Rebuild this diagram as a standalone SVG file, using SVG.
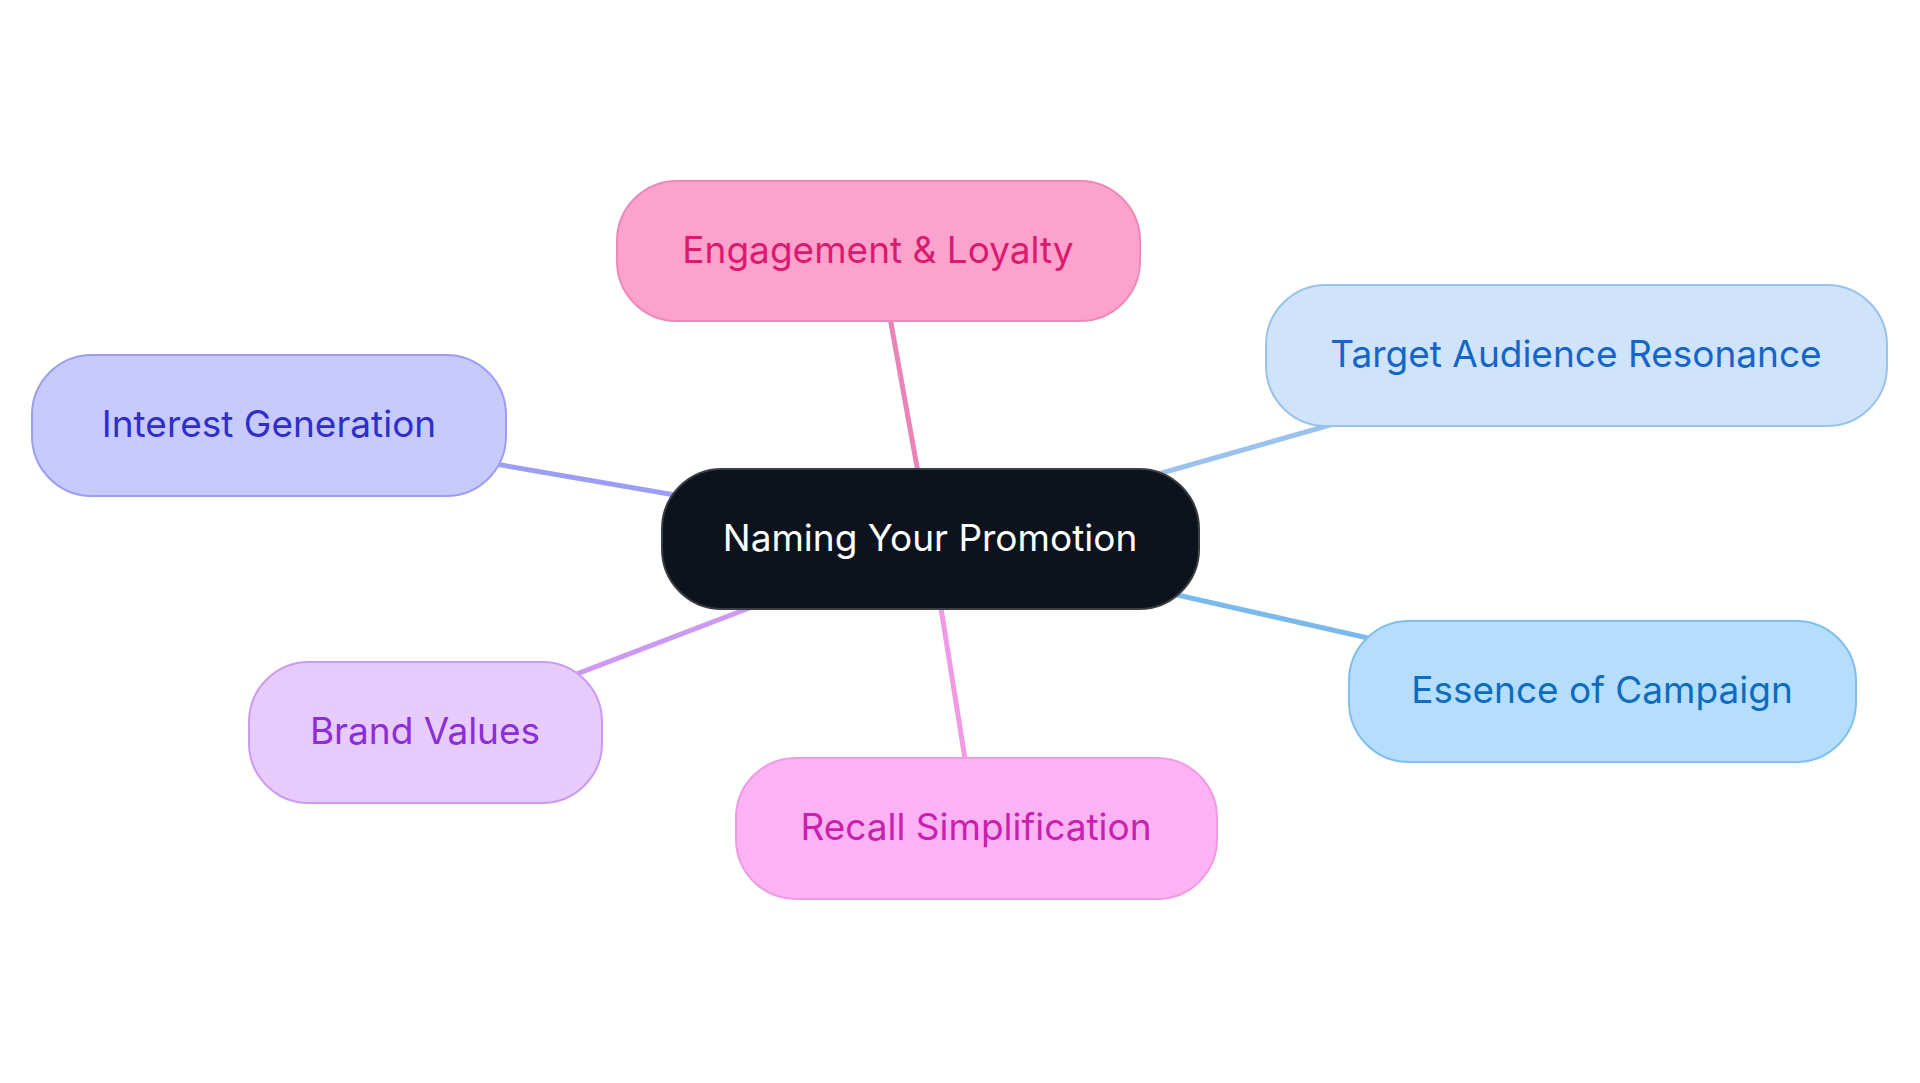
<svg xmlns="http://www.w3.org/2000/svg" width="1920" height="1083" viewBox="0 0 1920 1083">
<style>
.n rect{stroke-width:2}
.n text{font-family:Inter,"Noto Sans","Liberation Sans",sans-serif;font-size:37px;text-anchor:middle;dominant-baseline:central}
.c line{stroke-width:5;stroke-linecap:round}
</style>
<rect width="1920" height="1083" fill="#ffffff"/>
<g id="connectors" class="c">
<line x1="930" y1="539" x2="878" y2="251" stroke="#ea84b8"/>
<line x1="930" y1="539" x2="1576" y2="355" stroke="#99c2ee"/>
<line x1="930" y1="539" x2="269" y2="425" stroke="#9b9ef4"/>
<line x1="930" y1="539" x2="1602" y2="691" stroke="#7ab9ec"/>
<line x1="930" y1="539" x2="425" y2="732" stroke="#cc9af2"/>
<line x1="930" y1="539" x2="976" y2="828" stroke="#f09ae4"/>
</g>
<g id="engagement" class="n">
<rect x="617" y="181" width="523" height="140" rx="60" fill="#fda2cd" stroke="#ec89b8"/>
<text x="878" y="249" fill="#db1a6f">Engagement &amp; Loyalty</text>
</g>
<g id="target" class="n">
<rect x="1266" y="285" width="621" height="141" rx="60" fill="#cfe3fb" stroke="#99c2ee"/>
<text x="1576" y="353" fill="#1565c9">Target Audience Resonance</text>
</g>
<g id="interest" class="n">
<rect x="32" y="355" width="474" height="141" rx="60" fill="#c8c9fc" stroke="#9b9ef4"/>
<text x="269" y="423" fill="#2e2ecb">Interest Generation</text>
</g>
<g id="essence" class="n">
<rect x="1349" y="621" width="507" height="141" rx="60" fill="#b5defd" stroke="#7fbfef"/>
<text x="1602" y="689" fill="#0d6cc0">Essence of Campaign</text>
</g>
<g id="brand" class="n">
<rect x="249" y="662" width="353" height="141" rx="60" fill="#e7cbfd" stroke="#cc9af2"/>
<text x="425" y="730" fill="#8b2ed6">Brand Values</text>
</g>
<g id="recall" class="n">
<rect x="736" y="758" width="481" height="141" rx="60" fill="#fdb3f3" stroke="#f09ae4"/>
<text x="976" y="826" fill="#c920b0">Recall Simplification</text>
</g>
<g id="center" class="n">
<rect x="662" y="469" width="537" height="140" rx="60" fill="#0d131c" stroke="#3a3d42"/>
<text x="930" y="537" fill="#ffffff">Naming Your Promotion</text>
</g>
</svg>
